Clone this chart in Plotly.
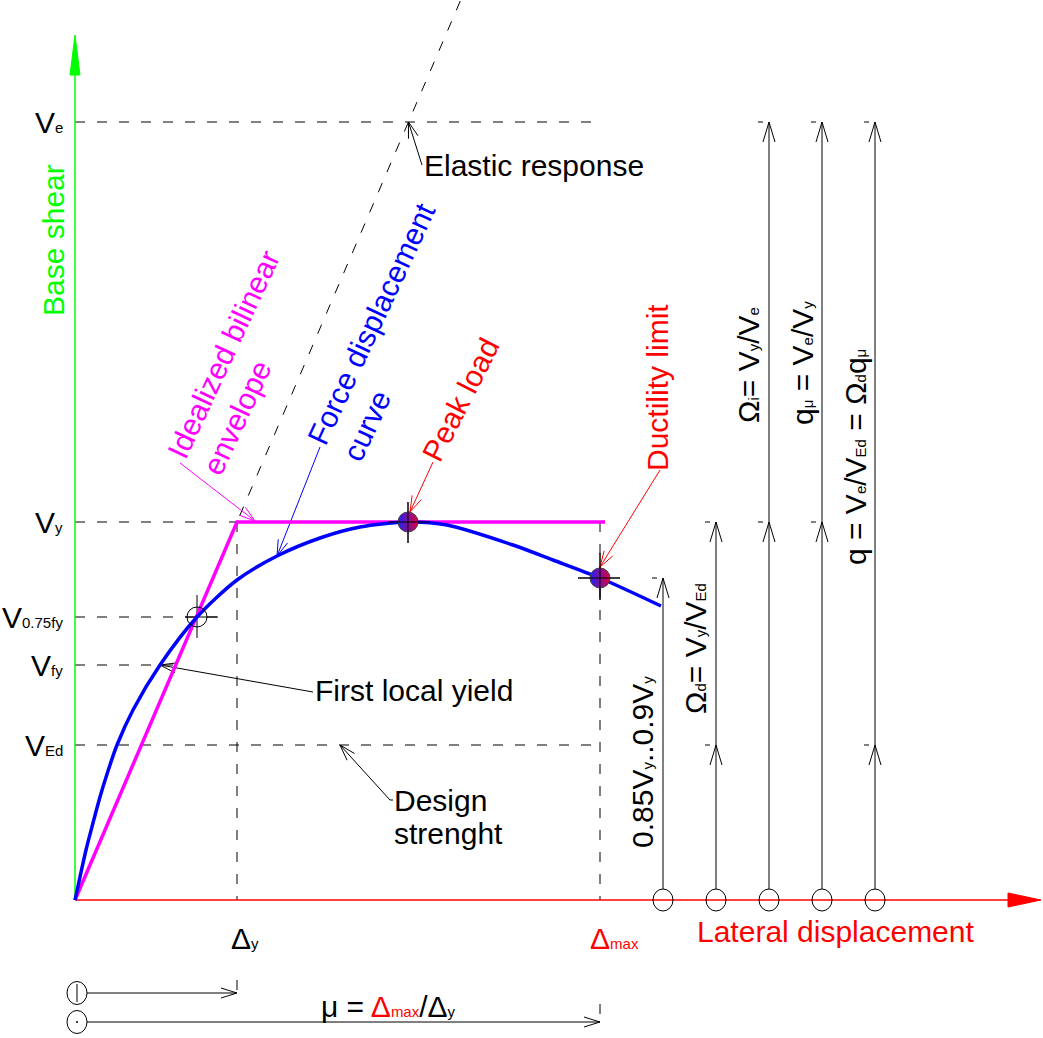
import numpy as np
import plotly.graph_objects as go


def s(t):
    """small index text sitting on the baseline"""
    return f"<span style='font-size:15px'>{t}</span>"


# ---------------------------------------------------------------- data
# drawing units, origin of the diagram at (0, 0)
disp_names = ["Δ" + s("y"), "Δ" + s("max")]
disp_values = [162, 525]                      # yield / ultimate displacement

shear_names = ["V" + s("e"), "V" + s("y"), "V" + s("0.75fy"),
               "V" + s("fy"), "V" + s("Ed")]
shear_values = [778, 378, 283, 235, 155]      # Ve, Vy, V0.75fy, Vfy, VEd

# force-displacement (capacity) curve
curve_disp = [0, 5, 11, 18, 25, 33, 42, 58, 85, 122, 162, 202, 245, 285,
              333, 372, 438, 478, 525, 586]
curve_shear = [0, 23, 50, 77, 103, 129, 155, 190, 235, 283, 320, 344, 362,
               373, 378, 375, 355, 340, 322, 294]

# idealized bilinear envelope
bilinear_disp = [0, 162, 530]
bilinear_shear = [0, 378, 378]

# points of interest on the curve
peak_disp, peak_shear = 333, 378
ductility_disp, ductility_shear = 525, 322
first_yield_disp, first_yield_shear = 85, 235
cross_disp, cross_shear = 122, 283            # V0.75fy intersection

# ratio arrows at the right
ratio_labels = [
    "0.85V" + s("y") + "..0.9V" + s("y"),
    "Ω" + s("d") + "= V" + s("y") + "/V" + s("Ed"),
    "Ω" + s("i") + "= V" + s("y") + "/V" + s("e"),
    "q" + s("μ") + " = V" + s("e") + "/V" + s("y"),
    "q = V" + s("e") + "/V" + s("Ed") + " = Ω" + s("d") + "q" + s("μ"),
]
ratio_top = [ductility_shear, 378, 778, 778, 778]
ratio_mid = [None, 155, 378, 378, 155]

V_E, V_Y, V_075, V_FY, V_ED = shear_values
D_Y, D_MAX = disp_values

# ---------------------------------------------------------------- layout constants
FONT = "Liberation Sans, Arial, sans-serif"
FS = 30
ratio_x = [588, 641, 694, 747, 800]
ratio_text_pos = [(567, 138), (620, 251), (673, 535), (727, 537), (780, 443)]


def seg_list(segs):
    xs, ys = [], []
    for (x0, y0, x1, y1) in segs:
        xs += [x0, x1, None]
        ys += [y0, y1, None]
    return xs, ys


def vhead(xt, yt, xf, yf, L=20, w=6):
    d = np.array([xt - xf, yt - yf], float)
    d /= np.hypot(*d)
    n = np.array([-d[1], d[0]])
    b = np.array([xt, yt]) - L * d
    p1 = b + w * n
    p2 = b - w * n
    return [p1[0], xt, p2[0], None], [p1[1], yt, p2[1], None]


fig = go.Figure()

# ---------------- dashed guide lines
elastic_top = 900
dashed = [
    (0, V_E, D_MAX, V_E),
    (0, V_Y, D_Y, V_Y),
    (0, V_075, cross_disp + 21, V_075),
    (0, V_FY, first_yield_disp + 22, V_FY),
    (0, V_ED, D_MAX, V_ED),
    (D_Y, V_Y, D_Y, 0),
    (D_MAX, V_Y, D_MAX, 0),
    (0, 0, elastic_top * D_Y / V_Y, elastic_top),
    (D_Y, -80, D_Y, -93),
    (D_MAX, -104, D_MAX, -122),
]
x, y = seg_list(dashed)
fig.add_trace(go.Scatter(x=x, y=y, mode="lines",
                         line=dict(color="black", width=1, dash="10px,12px")))

# ---------------- thin black solid lines: crosshairs, arrows, leaders
solid = [
    (peak_disp - 20, peak_shear, peak_disp + 22, peak_shear),
    (peak_disp, peak_shear + 20, peak_disp, peak_shear - 21),
    (ductility_disp - 22, ductility_shear, ductility_disp + 20, ductility_shear),
    (ductility_disp, ductility_shear + 25, ductility_disp, ductility_shear - 22),
    (cross_disp - 12, cross_shear, cross_disp + 21, cross_shear),
    (cross_disp, cross_shear + 22, cross_disp, cross_shear - 21),
]
hx, hy = [], []
for xr, top, mid in zip(ratio_x, ratio_top, ratio_mid):
    solid.append((xr, 11, xr, top))
    solid.append((xr - 11, top, xr - 6, top))
    a, b = vhead(xr, top, xr, 0)
    hx += a; hy += b
    if mid is not None:
        solid.append((xr - 11, mid, xr - 6, mid))
        a, b = vhead(xr, mid, xr, 0)
        hx += a; hy += b

# bottom ductility arrows
for yy, xend in [(-93, D_Y), (-122, D_MAX)]:
    solid.append((12, yy, xend, yy))
    a, b = vhead(xend, yy, 0, yy, L=16, w=5)
    hx += a; hy += b
solid.append((2, -84, 2, -102))

# black leaders
leaders_black = [
    ((347, 735), (V_E * D_Y / V_Y, V_E)),               # elastic response
    ((238, 208), (first_yield_disp, first_yield_shear)),  # first local yield
    ((315, 100), (265, V_ED)),                          # design strength
]
for (fx, fy), (tx, ty) in leaders_black:
    solid.append((fx, fy, tx, ty))
    a, b = vhead(tx, ty, fx, fy, L=16, w=5)
    hx += a; hy += b
solid.append((315, 100, 318, 100))

x, y = seg_list(solid)
fig.add_trace(go.Scatter(x=x + hx, y=y + hy, mode="lines",
                         line=dict(color="black", width=1)))

# colored leaders
colored_leaders = [
    ("#ff00ff", (105, 437), (180, 379)),
    ("#0000ff", (245, 453), (202, 344)),
    ("#ff0000", (358, 438), (335, 388)),
    ("#ff0000", (585, 430), (525, 333)),
]
for col, (fx, fy), (tx, ty) in colored_leaders:
    a, b = vhead(tx, ty, fx, fy, L=16, w=5)
    fig.add_trace(go.Scatter(x=[fx, tx, None] + a, y=[fy, ty, None] + b,
                             mode="lines", line=dict(color=col, width=1)))

# ---------------- axes (green vertical, red horizontal)
fig.add_trace(go.Scatter(x=[0, 0], y=[0, 830], mode="lines",
                         line=dict(color="#00ff00", width=1.5)))
fig.add_trace(go.Scatter(x=[-5, 0, 5, -5], y=[825, 865, 825, 825], mode="lines",
                         fill="toself", fillcolor="#00ff00",
                         line=dict(color="#00ff00", width=1)))
fig.add_trace(go.Scatter(x=[0, 935], y=[0, 0], mode="lines",
                         line=dict(color="#ff0000", width=1.5)))
fig.add_trace(go.Scatter(x=[933, 966, 933, 933], y=[7, 0, -7, 7], mode="lines",
                         fill="toself", fillcolor="#ff0000",
                         line=dict(color="#ff0000", width=1)))

# ---------------- bilinear envelope and curve
fig.add_trace(go.Scatter(x=bilinear_disp, y=bilinear_shear, mode="lines",
                         line=dict(color="#ff00ff", width=3.5)))
fig.add_trace(go.Scatter(x=curve_disp, y=curve_shear, mode="lines",
                         line=dict(color="#0000ff", width=3.5, shape="spline",
                                   smoothing=0.8)))

# ---------------- markers
fig.add_trace(go.Scatter(x=[peak_disp, ductility_disp], y=[peak_shear, ductility_shear],
                         mode="markers",
                         marker=dict(size=20, color="#2020ff",
                                     gradient=dict(type="horizontal", color="#e0003a"),
                                     line=dict(color="#444", width=1))))
fig.add_trace(go.Scatter(x=[2], y=[-122], mode="markers",
                         marker=dict(size=2, color="black")))

# redraw crosshair over markers
cx, cy = seg_list(solid[:4])
fig.add_trace(go.Scatter(x=cx, y=cy, mode="lines", line=dict(color="black", width=1)))

# ---------------- circles (shapes)
shapes = []
circ = [(cross_disp, cross_shear, 10, 10)]
circ += [(xr, 0, 10, 11) for xr in ratio_x]
circ += [(2, -93, 10, 11.5), (2, -122, 10, 11.5)]
for cxx, cyy, rx, ry in circ:
    shapes.append(dict(type="circle", xref="x", yref="y",
                       x0=cxx - rx, x1=cxx + rx, y0=cyy - ry, y1=cyy + ry,
                       line=dict(color="black", width=1)))

# ---------------- annotations
ann = []


def A(text, x, y, color="black", size=FS, angle=0, xa="center", ya="middle",
      align="center"):
    ann.append(dict(text=text, x=x, y=y, xref="x", yref="y", showarrow=False,
                    font=dict(family=FONT, size=size, color=color),
                    textangle=angle, xanchor=xa, yanchor=ya, align=align))


for name, val in zip(shear_names, shear_values):
    A(name, -10, val, xa="right")

A("Base shear", -22, 660, color="#00ff00", angle=-90)
A("Elastic response", 347, 735, xa="left")
A("First local yield", 238, 210, xa="left")
A("Design", 317, 100, xa="left")
A("strenght", 317, 67, xa="left")
A("Idealized bilinear<br>envelope", 166, 537, color="#ff00ff", angle=-65, align="left")
A("Force displacement<br>curve", 314, 568, color="#0000ff", angle=-65, align="left")
A("Peak load", 385, 500, color="#ff0000", angle=-63)
A("Ductility limit", 582, 512, color="#ff0000", angle=-90)
A(disp_names[0], D_Y + 8, -38)
A(disp_names[1], D_MAX + 14, -38, color="#ff0000")
A("Lateral displacement", 760, -31, color="#ff0000")
A("μ = <span style='color:#ff0000'>Δ" + s("max") + "</span>/Δ" + s("y"), 313, -106)
for lab, (tx, ty) in zip(ratio_labels, ratio_text_pos):
    A(lab, tx, ty, angle=-90)

fig.update_layout(
    width=1043, height=1038, autosize=False,
    margin=dict(l=0, r=0, t=0, b=0, pad=0),
    paper_bgcolor="white", plot_bgcolor="white",
    showlegend=False, hovermode=False,
    xaxis=dict(range=[-75, 968], visible=False, fixedrange=True),
    yaxis=dict(range=[-138, 900], visible=False, fixedrange=True),
    shapes=shapes, annotations=ann,
)

fig.write_html("out.html", config={"displayModeBar": False},
               post_script="document.body.style.margin='0';document.body.style.overflow='hidden';")
